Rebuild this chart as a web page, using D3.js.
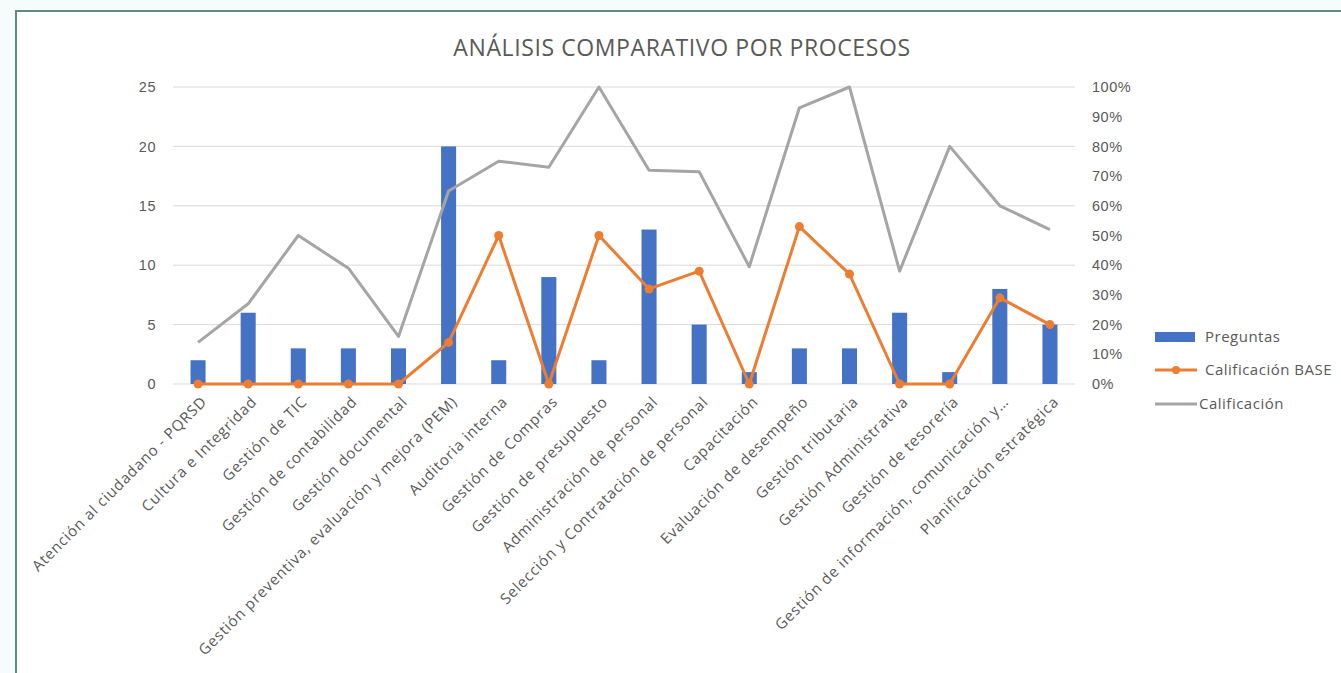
<!DOCTYPE html>
<html lang="es">
<head>
    <meta charset="UTF-8">
    <title>Análisis comparativo por procesos</title>
    <script src="https://d3js.org/d3.v7.min.js"></script>
    <style>
        body { margin: 0; background: #f6fbfb; font-family: "Open Sans", sans-serif; }
        .tick-label { font-size: 14.5px; letter-spacing: 0.5px; fill: #595959; }
        .cat-label { font-size: 15px; letter-spacing: 0.8px; fill: #595959; }
        .legend-label { font-size: 15px; letter-spacing: 0.5px; fill: #595959; }
        .title { font-size: 23px; letter-spacing: 0.6px; fill: #595959; }
    </style>
</head>
<body>
    <div id="chart"></div>

    <script>
        // datos
        const categorias = [
            "Atención al ciudadano - PQRSD",
            "Cultura e Integridad",
            "Gestión de TIC",
            "Gestión de contabilidad",
            "Gestión documental",
            "Gestión preventiva, evaluación y mejora (PEM)",
            "Auditoria interna",
            "Gestión de Compras",
            "Gestión de presupuesto",
            "Administración de personal",
            "Selección y Contratación de personal",
            "Capacitación",
            "Evaluación de desempeño",
            "Gestión tributaria",
            "Gestión Administrativa",
            "Gestión de tesorería",
            "Gestión de información, comunicación y…",
            "Planificación estratégica"
        ];
        const preguntas = [2, 6, 3, 3, 3, 20, 2, 9, 2, 13, 5, 1, 3, 3, 6, 1, 8, 5];
        const calificacionBase = [0, 0, 0, 0, 0, 0.14, 0.50, 0, 0.50, 0.32, 0.38, 0, 0.53, 0.37, 0, 0, 0.29, 0.20];
        const calificacion = [0.14, 0.27, 0.50, 0.39, 0.16, 0.65, 0.75, 0.73, 1.00, 0.72, 0.715, 0.395, 0.93, 1.00, 0.38, 0.80, 0.60, 0.52];
        const ticksIzq = [0, 5, 10, 15, 20, 25];
        const ticksDer = [0, 0.1, 0.2, 0.3, 0.4, 0.5, 0.6, 0.7, 0.8, 0.9, 1.0];
        const series = ["Preguntas", "Calificación BASE", "Calificación"];

        const width = 1341;
        const height = 673;
        const colores = { barra: "#4472C4", base: "#ED7D31", calif: "#A5A5A5" };

        const svg = d3.select("#chart")
            .append("svg")
            .attr("width", width)
            .attr("height", height);

        // marco
        svg.append("rect")
            .attr("x", 16).attr("y", 11)
            .attr("width", 1340).attr("height", 700)
            .attr("fill", "#fff")
            .attr("stroke", "#5f8a7e")
            .attr("stroke-width", 2);

        const x = d3.scaleBand()
            .domain(categorias)
            .range([173, 1075])
            .paddingInner(0.7)
            .paddingOuter(0.35);
        const yIzq = d3.scaleLinear().domain([0, 25]).range([384, 87]);
        const yDer = d3.scaleLinear().domain([0, 1]).range([384, 87]);
        const cx = c => x(c) + x.bandwidth() / 2;

        // titulo
        svg.append("text")
            .attr("class", "title")
            .attr("x", 682).attr("y", 56)
            .attr("text-anchor", "middle")
            .text("ANÁLISIS COMPARATIVO POR PROCESOS");

        // lineas de cuadricula
        svg.append("g")
            .selectAll("line")
            .data(ticksIzq)
            .enter()
            .append("line")
            .attr("x1", 173).attr("x2", 1075)
            .attr("y1", d => yIzq(d)).attr("y2", d => yIzq(d))
            .attr("stroke", "#d9d9d9")
            .attr("stroke-width", 1);

        // eje izquierdo
        const ejeIzq = svg.append("g")
            .attr("transform", "translate(156,0)")
            .call(d3.axisLeft(yIzq).tickValues(ticksIzq).tickSize(0).tickPadding(0));
        ejeIzq.select(".domain").remove();
        ejeIzq.selectAll("text").attr("class", "tick-label").attr("font-family", null).attr("font-size", null);

        // eje derecho
        const ejeDer = svg.append("g")
            .attr("transform", "translate(1092,0)")
            .call(d3.axisRight(yDer).tickValues(ticksDer).tickSize(0).tickPadding(0).tickFormat(d3.format(".0%")));
        ejeDer.select(".domain").remove();
        ejeDer.selectAll("text").attr("class", "tick-label").attr("font-family", null).attr("font-size", null);

        // barras
        svg.append("g")
            .selectAll("rect")
            .data(categorias)
            .enter()
            .append("rect")
            .attr("x", d => x(d))
            .attr("width", x.bandwidth())
            .attr("y", (d, i) => yIzq(preguntas[i]))
            .attr("height", (d, i) => yIzq(0) - yIzq(preguntas[i]))
            .attr("fill", colores.barra);

        // linea gris
        const lineaCalif = d3.line()
            .x((d, i) => cx(categorias[i]))
            .y(d => yDer(d));
        svg.append("path")
            .datum(calificacion)
            .attr("d", lineaCalif)
            .attr("fill", "none")
            .attr("stroke", colores.calif)
            .attr("stroke-width", 3)
            .attr("stroke-linejoin", "round");

        // linea naranja con marcadores
        svg.append("path")
            .datum(calificacionBase)
            .attr("d", lineaCalif)
            .attr("fill", "none")
            .attr("stroke", colores.base)
            .attr("stroke-width", 3)
            .attr("stroke-linejoin", "round");
        svg.append("g")
            .selectAll("circle")
            .data(calificacionBase)
            .enter()
            .append("circle")
            .attr("cx", (d, i) => cx(categorias[i]))
            .attr("cy", d => yDer(d))
            .attr("r", 4.5)
            .attr("fill", colores.base);

        // etiquetas de categorias
        svg.append("g")
            .selectAll("text")
            .data(categorias)
            .enter()
            .append("text")
            .attr("class", "cat-label")
            .attr("text-anchor", "end")
            .attr("transform", d => `translate(${cx(d) + 6},${399}) rotate(-45)`)
            .attr("dy", "0.35em")
            .text(d => d);

        // leyenda
        const leyenda = svg.append("g");
        leyenda.append("rect")
            .attr("x", 1155).attr("y", 332)
            .attr("width", 40).attr("height", 10)
            .attr("fill", colores.barra);
        leyenda.append("line")
            .attr("x1", 1155).attr("x2", 1197)
            .attr("y1", 370).attr("y2", 370)
            .attr("stroke", colores.base).attr("stroke-width", 3);
        leyenda.append("circle")
            .attr("cx", 1176).attr("cy", 370).attr("r", 4)
            .attr("fill", colores.base);
        leyenda.append("line")
            .attr("x1", 1155).attr("x2", 1197)
            .attr("y1", 404).attr("y2", 404)
            .attr("stroke", colores.calif).attr("stroke-width", 3);
        leyenda.selectAll("text")
            .data(series)
            .enter()
            .append("text")
            .attr("class", "legend-label")
            .attr("x", (d, i) => i === 2 ? 1199 : 1205)
            .attr("y", (d, i) => [337, 370, 404][i])
            .attr("dy", "0.35em")
            .text(d => d);
    </script>
</body>
</html>
